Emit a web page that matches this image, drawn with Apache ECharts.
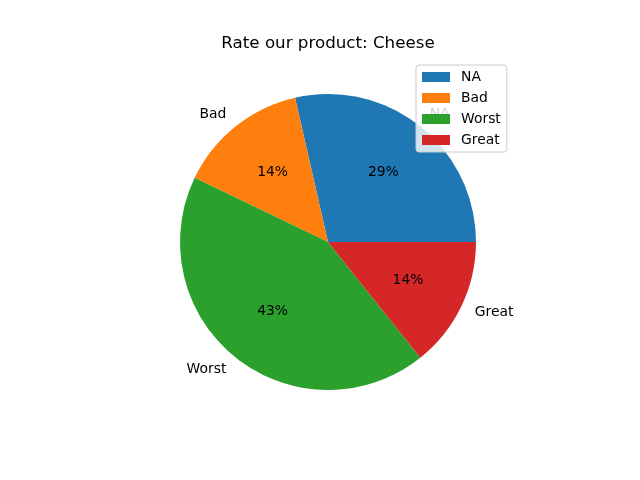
<!DOCTYPE html>
<html>
<head>
<meta charset="utf-8">
<script src="https://cdn.jsdelivr.net/npm/echarts@6/dist/echarts.min.js"></script>
<style>html,body{margin:0;padding:0;background:#fff}#c{width:640px;height:480px}</style>
</head>
<body>
<div id="c"></div>
<script>
const categories = ['NA', 'Bad', 'Worst', 'Great'];
const counts = [2, 1, 3, 1];
const colors = ['#1f77b4', '#ff7f0e', '#2ca02c', '#d62728'];
const titleText = 'Rate our product: Cheese';

const chart = echarts.init(document.getElementById('c'), null, {renderer: 'canvas'});
const font = 'DejaVu Sans';
const cx = 328, cy = 242, R = 148;
const data = categories.map((n, i) => ({name: n, value: counts[i], itemStyle: {color: colors[i]}}));

chart.setOption({
  animation: false,
  backgroundColor: '#fff',
  title: {
    text: titleText, left: cx - 5, top: 30, textAlign: 'center',
    textStyle: {fontFamily: font, fontSize: 16.7, fontWeight: 'normal', color: '#000'}
  },
  legend: {
    orient: 'vertical', left: 416, top: 65,
    padding: [5, 6, 5, 6],
    itemWidth: 28, itemHeight: 10, itemGap: 7,
    backgroundColor: 'rgba(255,255,255,0.8)',
    borderColor: '#cccccc', borderWidth: 1, borderRadius: 3,
    icon: 'rect',
    textStyle: {fontFamily: font, fontSize: 13.9, color: '#000', padding: [0, 0, 0, 6]},
    data: categories.map((n, i) => ({name: n, itemStyle: {color: colors[i]}}))
  },
  series: [
    {
      type: 'pie', center: [cx, cy], radius: [0, R],
      startAngle: 0, clockwise: false, avoidLabelOverlap: false,
      silent: true,
      data: data,
      label: {show: true, position: 'outside', distanceToLabelLine: 0,
        fontFamily: font, fontSize: 13.9, color: '#000', formatter: '{b}'},
      labelLine: {show: false, length: 15, length2: 0},
      itemStyle: {borderWidth: 0}
    },
    {
      type: 'pie', center: [cx, cy], radius: [R * 0.2 - 6, R],
      startAngle: 0, clockwise: false, avoidLabelOverlap: false,
      silent: true, legendHoverLink: false,
      data: categories.map((n, i) => ({name: n, value: counts[i]})),
      itemStyle: {color: 'rgba(0,0,0,0)', borderWidth: 0},
      label: {show: true, position: 'inside', fontFamily: font, fontSize: 13.9, color: '#000',
        formatter: p => Math.round(p.percent) + '%'},
      labelLine: {show: false}
    }
  ]
});
</script>
</body>
</html>
